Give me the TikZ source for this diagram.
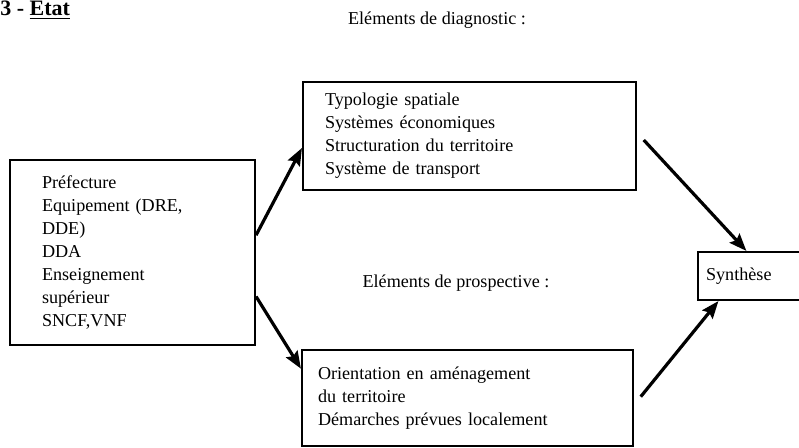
\documentclass[tikz,border=0pt]{standalone}
\usepackage{fontspec}
\setmainfont{Liberation Serif}
\usetikzlibrary{arrows.meta}
\begin{document}
\begin{tikzpicture}[x=0.75pt,y=-0.75pt,
    font={\fontsize{13.6}{17.2}\selectfont},
    etatbox/.style={shape=rectangle,draw,line width=1.6pt,align=left},
    etatarrow/.style={line width=2.4pt,-{Stealth[length=13pt,width=10pt,inset=2pt]}}]
    \useasboundingbox (0,0) rectangle (799,447);
    \node[anchor=north west,inner sep=0pt,font={\fontsize{16.5}{18}\selectfont\bfseries}] (titre) at (0,1) {3 - \underline{Etat}};
    \node (diag) at (437,20) {Eléments de diagnostic :};
    \node (prosp) at (456,283) {Eléments de prospective :};
    \node[etatbox,text width=135.75pt,inner xsep=24pt,minimum height=138.75pt] (acteurs) at (132.5,252.5)
      {Préfecture\\ Equipement (DRE,\\ DDE)\\ DDA\\ Enseignement\\ supérieur\\ SNCF,VNF};
    \node[etatbox,text width=216.75pt,inner xsep=16.5pt,minimum height=81pt] (diagbox) at (469.5,136)
      {Typologie spatiale\\ Systèmes économiques\\ Structuration du territoire\\ Système de transport};
    \node[etatbox,text width=224.25pt,inner xsep=12pt,minimum height=72pt] (prospbox) at (467.5,398)
      {Orientation en aménagement\\ du territoire\\ Démarches prévues localement};
    \node[etatbox,anchor=west,text width=64.5pt,inner xsep=6pt,minimum height=36pt] (synth) at (697,276) {Synthèse};
    % connecteurs
    \draw[etatarrow] ([yshift=13pt]acteurs.east) -- ([yshift=-9pt]diagbox.west);
    \draw[etatarrow] ([yshift=-33pt]acteurs.east) -- ([yshift=22pt]prospbox.west);
    \draw[etatarrow] ([xshift=5pt,yshift=-3pt]diagbox.east) -- ([xshift=-2pt]synth.north);
    \draw[etatarrow] ([xshift=5pt,yshift=1pt]prospbox.east) -- ([xshift=-23pt]synth.south);
\end{tikzpicture}
\end{document}
